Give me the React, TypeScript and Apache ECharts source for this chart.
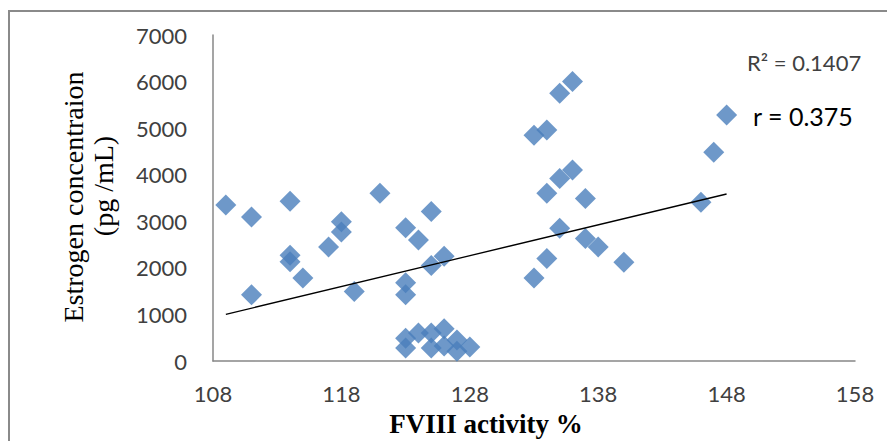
import React, { useEffect, useRef } from "react";
import * as echarts from "echarts";

// FVIII activity (%) of each subject
const fviii = [
  109, 111, 111, 114, 114, 114, 115, 117, 118, 118, 119, 121, 123, 123, 123, 124, 125, 125, 126,
  123, 123, 124, 125, 125, 126, 126, 127, 127, 128,
  133, 134, 135, 136, 136, 135, 134, 137, 135, 137, 138, 134, 133, 140, 146, 147, 148,
];
// Estrogen concentration (pg/mL) of each subject
const estrogen = [
  3350, 3090, 1420, 3430, 2270, 2130, 1780, 2450, 2770, 2990, 1490, 3600, 2860, 1680, 1420, 2600, 3210, 2050, 2250,
  490, 280, 600, 600, 280, 690, 320, 450, 210, 300,
  4850, 4960, 5750, 6000, 4100, 3920, 3600, 3490, 2850, 2630, 2450, 2200, 1780, 2120, 3410, 4480, 5280,
];
const xTicks = [108, 118, 128, 138, 148, 158];
const trendX = [109, 148];
const trendY = [1003, 3586];
const r2Label = "R\u00b2 = 0.1407";
const rLabel = "r = 0.375";
const xTitle = "FVIII activity %";
const yTitleLines = ["Estrogen concentraion", "(pg /mL)"];

export default function App() {
  const ref = useRef<HTMLDivElement>(null);
  useEffect(() => {
    if (!ref.current) return;
    const chart = echarts.init(ref.current, null, { renderer: "svg" });
    const axisLine = { show: true, onZero: false, lineStyle: { color: "#878787", width: 1.5 } };
    const labelFont = { fontFamily: "Lato", fontSize: 22, color: "#404040" };
    chart.setOption({
      animation: false,
      backgroundColor: "#ffffff",
      grid: { left: 213, top: 35, width: 642, height: 326 },
      xAxis: {
        type: "value",
        min: 108,
        max: 158,
        axisLine,
        axisTick: { show: false },
        splitLine: { show: false },
        axisLabel: { ...labelFont, customValues: xTicks, margin: 21, formatter: (v: number) => String(v) },
      },
      yAxis: {
        type: "value",
        min: 0,
        max: 7000,
        interval: 1000,
        axisLine,
        axisTick: { show: false },
        splitLine: { show: false },
        axisLabel: { ...labelFont, margin: 26, formatter: (v: number) => String(v) },
      },
      series: [
        {
          type: "scatter",
          data: fviii.map((x, i) => [x, estrogen[i]]),
          symbol: "diamond",
          symbolSize: 21,
          itemStyle: { color: "#4A7EBB" },
          z: 2,
        },
        {
          type: "line",
          data: trendX.map((x, i) => [x, trendY[i]]),
          symbol: "none",
          lineStyle: { color: "#000000", width: 1.3 },
          z: 3,
        },
      ],
      graphic: [
        {
          type: "rect",
          shape: { x: 9, y: 11, width: 900, height: 500 },
          style: { fill: "none", stroke: "#8a8a8a", lineWidth: 2 },
          silent: true,
        },
        {
          type: "text",
          x: 747,
          y: 62,
          style: { text: r2Label, fontFamily: "Lato", fontSize: 22, fill: "#404040", textAlign: "left", textVerticalAlign: "middle" },
        },
        {
          type: "text",
          x: 753,
          y: 116,
          style: { text: rLabel, fontFamily: "Lato", fontSize: 25, fill: "#000000", textAlign: "left", textVerticalAlign: "middle" },
        },
        {
          type: "text",
          x: 486,
          y: 424,
          style: { text: xTitle, fontFamily: "Liberation Serif", fontWeight: "bold", fontSize: 27, fill: "#000000", textAlign: "center", textVerticalAlign: "middle" },
        },
        {
          type: "text",
          x: 73,
          y: 197,
          rotation: Math.PI / 2,
          style: { text: yTitleLines[0], fontFamily: "Liberation Serif", fontSize: 28, fill: "#000000", textAlign: "center", textVerticalAlign: "middle" },
        },
        {
          type: "text",
          x: 103,
          y: 186,
          rotation: Math.PI / 2,
          style: { text: yTitleLines[1], fontFamily: "Liberation Serif", fontSize: 28, fill: "#000000", textAlign: "center", textVerticalAlign: "middle" },
        },
      ],
    });
    return () => chart.dispose();
  }, []);
  return <div ref={ref} style={{ position: "absolute", left: 0, top: 0, width: 887, height: 441 }} />;
}
